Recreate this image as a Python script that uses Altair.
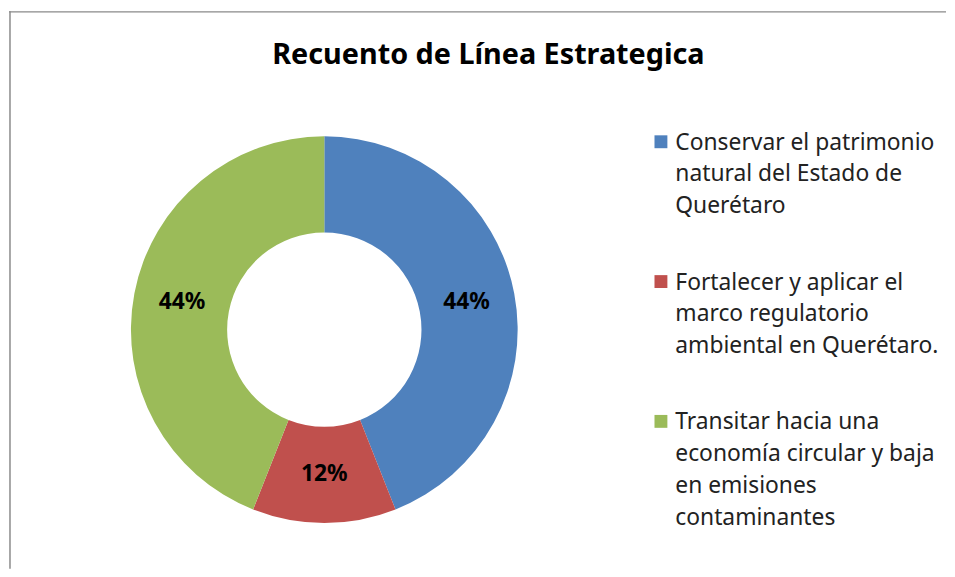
import altair as alt
import pandas as pd

# Data
label_lines = [
    ["Conservar el patrimonio", "natural del Estado de", "Querétaro"],
    ["Fortalecer y aplicar el", "marco regulatorio", "ambiental en Querétaro."],
    ["Transitar hacia una", "economía circular y baja", "en emisiones", "contaminantes"],
]
percentages = [44, 12, 44]
colors = ["#4F81BD", "#C0504D", "#9BBB59"]
title_text = "Recuento de Línea Estrategica"

categories = ["|".join(l) for l in label_lines]
df = pd.DataFrame({
    "linea": categories,
    "pct": percentages,
    "orden": list(range(len(categories))),
    "etiqueta": [f"{p}%" for p in percentages],
})

W, H = 935, 555
CX, CY = 318, 322
FONT = "Noto Sans"

base = alt.Chart(df).encode(
    theta=alt.Theta("pct:Q", stack=True),
    order=alt.Order("orden:Q"),
)

arcs = base.mark_arc(innerRadius=98, outerRadius=195, x=CX, y=CY, strokeWidth=0).encode(
    color=alt.Color(
        "linea:N",
        sort=categories,
        scale=alt.Scale(domain=categories, range=colors),
        legend=alt.Legend(
            title=None,
            orient="none",
            legendX=646,
            legendY=121,
            symbolType="square",
            symbolSize=169,
            symbolStrokeWidth=0,
            labelFont=FONT,
            labelFontSize=23,
            labelColor="#222222",
            labelLimit=400,
            labelOffset=3,
            labelExpr="split(datum.label, '|')",
            labelBaseline="top",
            rowPadding=52,
            padding=0,
        ),
    )
)

texts = base.mark_text(
    radius=146, x=CX, y=CY, font=FONT, fontSize=23, fontWeight="bold", color="#000000"
).encode(text="etiqueta:N")

border_df = pd.DataFrame({"k": [0]})
top_rule = alt.Chart(border_df).mark_rule(color="#8a8a8a", strokeWidth=1.5).encode(
    x=alt.value(0), x2=alt.value(W + 10), y=alt.value(1.5)
)
left_rule = alt.Chart(border_df).mark_rule(color="#8a8a8a", strokeWidth=1.5).encode(
    x=alt.value(1), y=alt.value(1), y2=alt.value(H + 8)
)

chart = alt.layer(top_rule, left_rule, arcs, texts).properties(
    width=W,
    height=H,
    padding=0,
    title=alt.Title(
        title_text,
        font=FONT,
        fontSize=29,
        fontWeight="bold",
        color="#000000",
        anchor="middle",
        frame="group",
        offset=-60,
        dx=16,
    ),
).configure(style={"guide-label": {"lineHeight": 32, "dy": -10}}).configure_view(stroke=None)

chart.save("out.html", embed_options={"renderer": "svg", "actions": False})
